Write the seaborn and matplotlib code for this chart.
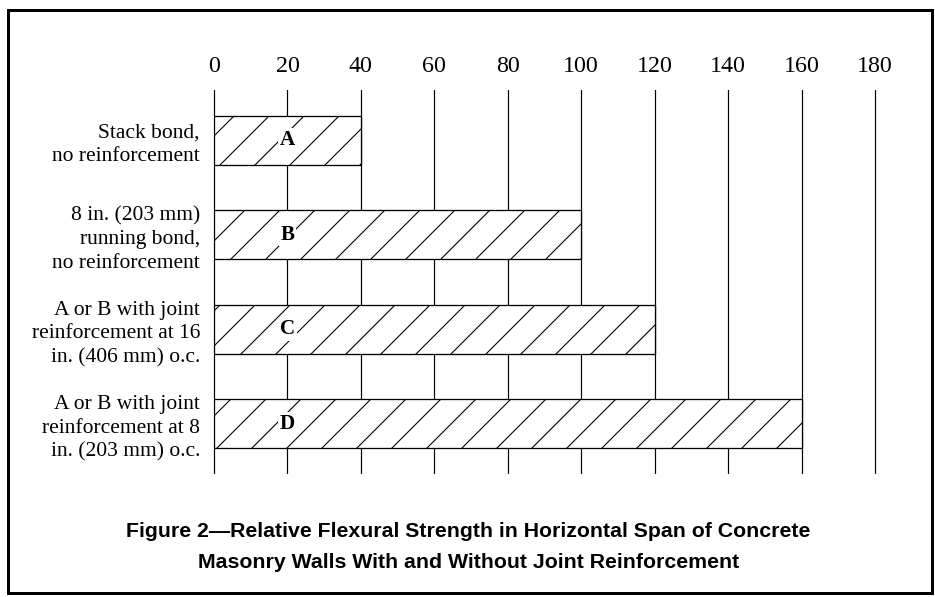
import matplotlib
matplotlib.use("Agg")
import matplotlib.pyplot as plt
from matplotlib import font_manager
from matplotlib.patches import Rectangle
import seaborn as sns
import pandas as pd

# ---- data ----
categories = [
    "Stack bond,\nno reinforcement",
    "8 in. (203 mm)\nrunning bond,\nno reinforcement",
    "A or B with joint\nreinforcement at 16\nin. (406 mm) o.c.",
    "A or B with joint\nreinforcement at 8\nin. (203 mm) o.c.",
]
bar_letters = ["A", "B", "C", "D"]
strength = [40, 100, 120, 160]
x_ticks = [0, 20, 40, 60, 80, 100, 120, 140, 160, 180]
title_lines = [
    "Figure 2\u2014Relative Flexural Strength in Horizontal Span of Concrete",
    "Masonry Walls With and Without Joint Reinforcement",
]

# ---- sizing ----
DPI = 210
W, H = 935, 597
PT = 72.0 / DPI  # points per pixel

sns.set_theme(style="white")
plt.rcParams["font.family"] = ["Liberation Serif", "DejaVu Serif"]
plt.rcParams["hatch.linewidth"] = 1.1 * PT
plt.rcParams["hatch.color"] = "black"

names = {f.name for f in font_manager.fontManager.ttflist}
if "Liberation Sans Narrow" in names:
    title_family, title_px = "Liberation Sans Narrow", 24
else:
    title_family, title_px = "Liberation Sans", 21.3

df = pd.DataFrame({"category": categories, "strength": strength})

fig = plt.figure(figsize=(W / DPI, H / DPI), dpi=DPI)
left, right, top, bottom = 214, 875, 90, 473
ax = fig.add_axes([left / W, 1 - bottom / H, (right - left) / W, (bottom - top) / H])

sns.barplot(data=df, x="strength", y="category", orient="h", ax=ax,
            color="white", edgecolor="black", linewidth=1.3 * PT,
            hatch="//", width=0.518, saturation=1)

ax.set_xlim(0, 180)
ax.set_ylim(3.52, -0.53)
ax.set_axisbelow(True)
ax.grid(axis="x", color="black", linewidth=1.2 * PT)
ax.grid(axis="y", visible=False)
for gl in ax.get_xgridlines():
    gl.set_clip_on(False)
for s in ax.spines.values():
    s.set_visible(False)

ax.xaxis.tick_top()
ax.set_xticks(x_ticks)
ax.set_xticklabels([str(t) for t in x_ticks])
ax.tick_params(axis="x", length=0, pad=13 * PT, labelsize=24 * PT, labelcolor="black")
ax.tick_params(axis="y", length=0, pad=14 * PT, labelsize=21.6 * PT, labelcolor="black")
for lab in ax.get_yticklabels():
    lab.set_multialignment("right")
    lab.set_linespacing(1.32)
ax.set_xlabel("")
ax.set_ylabel("")

for i, letter in enumerate(bar_letters):
    ax.text(20, i, letter, ha="center", va="center", fontsize=21 * PT,
            fontweight="bold", color="black",
            bbox=dict(boxstyle="square,pad=0.08", facecolor="white", edgecolor="none"))

# title
fig.text(468.5 / W, 1 - 537 / H, title_lines[0], ha="center", va="baseline",
         family=title_family, fontweight="bold", fontsize=title_px * PT, color="black")
fig.text(468.5 / W, 1 - 568 / H, title_lines[1], ha="center", va="baseline",
         family=title_family, fontweight="bold", fontsize=title_px * PT, color="black")

# frame
fig.patches.append(Rectangle((7.5 / W, 1 - 593 / H), (931.5 - 7.5) / W, (593 - 10) / H,
                             transform=fig.transFigure, fill=False,
                             edgecolor="black", linewidth=3 * PT))

fig.savefig("out.png", dpi=DPI, facecolor="white")
